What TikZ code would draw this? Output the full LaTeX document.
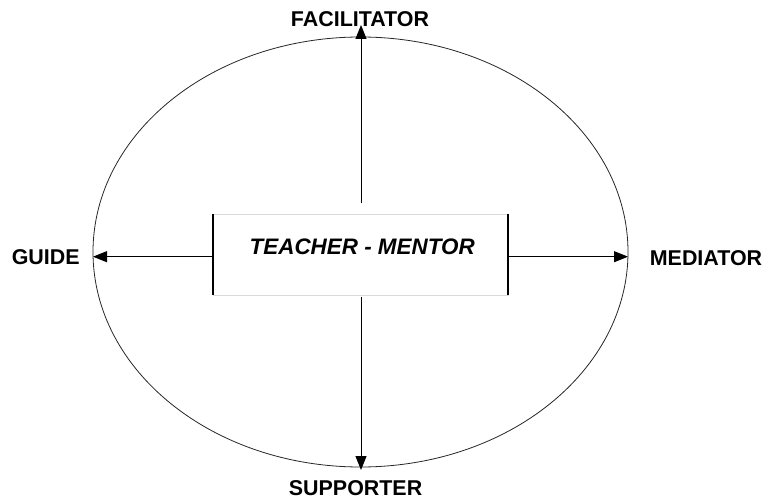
\documentclass[tikz,border=0pt]{standalone}
\usepackage{fontspec}
\setmainfont{Liberation Sans}
\usetikzlibrary{arrows.meta}
\begin{document}
\begin{tikzpicture}[x=1bp,y=-1bp,
  conn/.style={line width=0.9bp, -{Triangle[length=14bp,width=11bp]}},
  lbl/.style={font=\fontsize{21.5}{24}\selectfont\bfseries, inner sep=0pt, anchor=base},
  rolebox/.style={minimum width=294.5bp, minimum height=81bp, inner sep=0pt, draw=gray!30, line width=0.6bp},
  side/.style={line width=1.7bp},
]
\useasboundingbox (0,0) rectangle (766,498);

% outer ellipse
\draw[line width=0.8bp, black!85] (360.5,252) ellipse [x radius=267.5, y radius=215];

% central box with heavy side edges
\node[rolebox] (box) at (360.75,254.5) {};
\draw[side] (box.north west) -- (box.south west);
\draw[side] (box.north east) -- (box.south east);
\node[lbl, font=\fontsize{22.5}{26}\selectfont\bfseries\itshape] (centre) at (362.2,255) {TEACHER - MENTOR};

% role labels
\node[lbl] (fac) at (360,27) {FACILITATOR};
\node[lbl] (sup) at (355.6,495) {SUPPORTER};
\node[lbl] (gui) at (45.7,265) {GUIDE};
\node[lbl] (med) at (706,266) {MEDIATOR};

% arrow ends
\coordinate (ttop) at (361,25);
\coordinate (tbot) at (361,470);
\coordinate (tl) at (93,256.7);
\coordinate (tr) at (628,256.7);
\coordinate (stop) at (361,203);
\coordinate (sbot) at (361,297);

\draw[conn] (stop) -- (ttop);
\draw[conn] (sbot) -- (tbot);
\draw[conn] (box.west |- tl) -- (tl);
\draw[conn] (box.east |- tr) -- (tr);
\end{tikzpicture}
\end{document}
